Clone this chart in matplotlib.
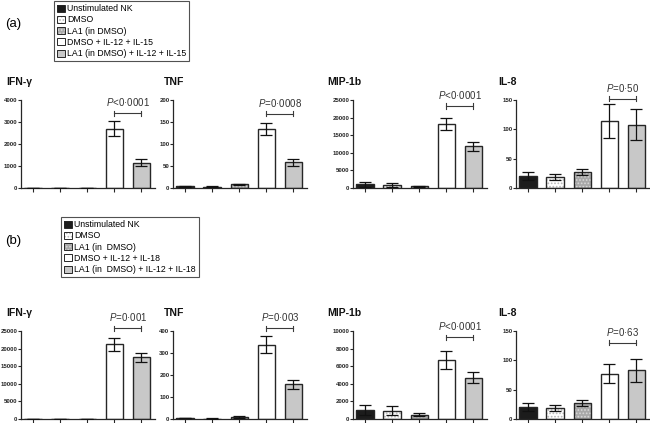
import matplotlib
matplotlib.use("Agg")
import matplotlib.pyplot as plt
from matplotlib.patches import Patch
from matplotlib.legend_handler import HandlerTuple
import numpy as np

plt.rcParams["font.family"] = ["Liberation Sans", "DejaVu Sans"]
plt.rcParams["mathtext.fontset"] = "custom"
plt.rcParams["mathtext.rm"] = "Liberation Sans"
plt.rcParams["mathtext.it"] = "Liberation Sans:italic"
plt.rcParams["hatch.linewidth"] = 0.8

cytokines = ["IFN-γ", "TNF", "MIP-1b", "IL-8"]
a_groups = ["Unstimulated NK", "DMSO", "LA1 (in DMSO)",
            "DMSO + IL-12 + IL-15", "LA1 (in DMSO) + IL-12 + IL-15"]
b_groups = ["Unstimulated NK", "DMSO", "LA1 (in  DMSO)",
            "DMSO + IL-12 + IL-18", "LA1 (in  DMSO) + IL-12 + IL-18"]

# panel (a): means, lower / upper error sizes, y-axis max and tick step
a_means = [[3, 3, 15, 2700, 1150], [4, 3, 8, 134, 58],
           [1000, 900, 500, 18200, 11800], [21, 18, 27, 114, 107]]
a_lower = [[0, 0, 0, 350, 170], [1, 1, 2, 14, 8],
           [600, 600, 200, 1600, 1300], [7, 5, 5, 28, 26]]
a_upper = [[0, 0, 0, 350, 180], [1, 1, 2, 13, 8],
           [600, 600, 200, 1800, 1400], [7, 6, 5, 29, 27]]
a_ymax = [4000, 200, 25000, 150]
a_ystep = [1000, 50, 5000, 50]
a_pvals = ["<0·0001", "=0·0008", "<0·0001", "=0·50"]
a_bracket = [3400, 169, 23300, 152]

# panel (b)
b_means = [[40, 40, 40, 21200, 17500], [4, 2, 9, 338, 158],
           [1000, 950, 500, 6700, 4700], [21, 18, 27, 77, 83]]
b_lower = [[0, 0, 0, 1800, 1300], [1, 1, 3, 38, 20],
           [600, 550, 200, 1000, 600], [7, 5, 5, 16, 20]]
b_upper = [[0, 0, 0, 1800, 1200], [1, 1, 3, 38, 21],
           [600, 550, 200, 1000, 600], [7, 6, 5, 16, 20]]
b_ymax = [25000, 400, 10000, 150]
b_ystep = [5000, 100, 2000, 50]
b_pvals = ["=0·001", "=0·003", "<0·0001", "=0·63"]
b_bracket = [25800, 412, 9300, 130]

fills = ["#1c1c1c", "#ffffff", "#a8a8a8", "#ffffff", "#c8c8c8"]
hatches = [None, ".....", ".....", None, None]
hatch_cols = ["#1c1c1c", "#b8b8b8", "#d8d8d8", "#ffffff", "#c8c8c8"]
EDGE = "#262626"

W, H = 650, 423
fig = plt.figure(figsize=(W / 100, H / 100), dpi=100)

axis_left = [21, 173, 353, 516]
title_left = [6, 164, 327, 498]
AX_W, AX_H = 134, 88


def px(x, y):
    return x / W, 1 - y / H


def draw_panel(top, means, lower, upper, ymax, ystep, pvals, bracket):
    xs = np.arange(5)
    for i in range(4):
        l, b = px(axis_left[i], top + AX_H)
        ax = fig.add_axes([l, b, AX_W / W, AX_H / H])
        for j in range(5):
            ax.bar(xs[j], means[i][j], 0.65, color=fills[j],
                   edgecolor=hatch_cols[j], linewidth=0, hatch=hatches[j], zorder=2)
            ax.bar(xs[j], means[i][j], 0.65, fill=False,
                   edgecolor=EDGE, linewidth=1.0, zorder=3)
        ax.errorbar(xs, means[i], yerr=[lower[i], upper[i]], fmt="none",
                    ecolor="#111111", elinewidth=0.9, capsize=4.5, capthick=0.9,
                    zorder=4)
        ax.set_xlim(-0.45, 4.5)
        ax.set_ylim(0, ymax[i])
        ax.set_yticks(np.arange(0, ymax[i] + ystep[i], ystep[i]))
        ax.set_xticks(xs)
        ax.set_xticklabels([])
        for s in ["top", "right"]:
            ax.spines[s].set_visible(False)
        for s in ["left", "bottom"]:
            ax.spines[s].set_linewidth(0.9)
            ax.spines[s].set_color(EDGE)
        ax.tick_params(axis="y", length=2, width=0.8, pad=0.5, labelsize=4.4,
                       colors=EDGE)
        ax.tick_params(axis="x", length=3, width=0.8, colors=EDGE)
        for t in ax.get_yticklabels():
            t.set_fontweight("bold")
        # significance bracket
        yb = bracket[i]
        tick = ymax[i] * 0.03
        ax.plot([3, 4], [yb, yb], color="#3a3a3a", lw=0.8, clip_on=False)
        ax.plot([3, 3], [yb - tick, yb + tick], color="#3a3a3a", lw=0.8, clip_on=False)
        ax.plot([4, 4], [yb - tick, yb + tick], color="#3a3a3a", lw=0.8, clip_on=False)
        ax.annotate("$P$" + pvals[i], (3.5, yb), xytext=(0, 3.5),
                    textcoords="offset points", ha="center", va="bottom",
                    fontsize=7, color="#333333", annotation_clip=False)
        tx, ty = px(title_left[i], top - 18)
        fig.text(tx, ty, cytokines[i], fontsize=7.5, fontweight="bold",
                 ha="left", va="center", color="#111111")


def draw_legend(groups, x, y):
    handles = []
    for j in range(5):
        h1 = Patch(facecolor=fills[j], edgecolor=hatch_cols[j], linewidth=0,
                   hatch=hatches[j])
        h2 = Patch(fill=False, edgecolor=EDGE, linewidth=0.7)
        handles.append((h1, h2))
    lx, ly = px(x, y)
    leg = fig.legend(handles, groups, loc="upper left", bbox_to_anchor=(lx, ly),
                     handler_map={tuple: HandlerTuple(ndivide=1)},
                     frameon=True, fancybox=False, edgecolor=EDGE,
                     fontsize=6.3, borderpad=0.35, labelspacing=0.26,
                     handlelength=0.85, handleheight=0.85, handletextpad=0.3,
                     borderaxespad=0)
    leg.get_frame().set_linewidth(0.8)


draw_panel(100, a_means, a_lower, a_upper, a_ymax, a_ystep, a_pvals, a_bracket)
draw_panel(331, b_means, b_lower, b_upper, b_ymax, b_ystep, b_pvals, b_bracket)
draw_legend(a_groups, 54, 1)
draw_legend(b_groups, 61, 217)

fig.text(*px(5, 24), "(a)", fontsize=9.5, ha="left", va="center")
fig.text(*px(5, 241), "(b)", fontsize=9.5, ha="left", va="center")

fig.savefig("out.png", dpi=100)
